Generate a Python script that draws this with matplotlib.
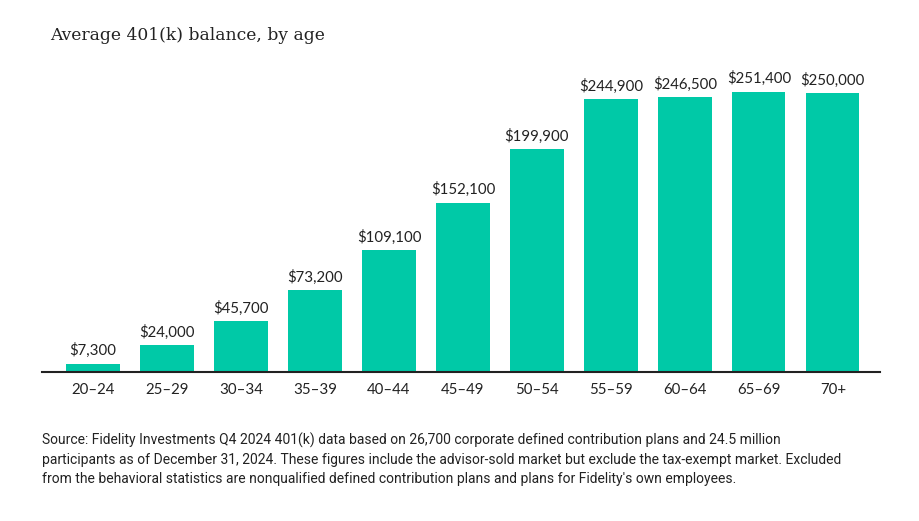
import matplotlib
matplotlib.use('Agg')
import matplotlib.pyplot as plt
from matplotlib import font_manager

ages = ['20–24', '25–29', '30–34', '35–39', '40–44', '45–49',
        '50–54', '55–59', '60–64', '65–69', '70+']
balances = [7300, 24000, 45700, 73200, 109100, 152100,
            199900, 244900, 246500, 251400, 250000]

title = 'Average 401(k) balance, by age'
source = ('Source: Fidelity Investments Q4 2024 401(k) data based on 26,700 corporate defined contribution plans and 24.5 million\n'
          'participants as of December 31, 2024. These figures include the advisor-sold market but exclude the tax-exempt market. Excluded\n'
          "from the behavioral statistics are nonqualified defined contribution plans and plans for Fidelity's own employees.")

names = {f.name for f in font_manager.fontManager.ttflist}
narrow = 'Liberation Sans Narrow' if 'Liberation Sans Narrow' in names else 'Roboto'

plt.rcParams['font.family'] = ['Lato', 'DejaVu Sans']

fig = plt.figure(figsize=(9.2, 5.21), dpi=100)
ax = fig.add_axes([0.0457, 0.286, 0.911, 0.599])

x = range(len(ages))
ax.bar(x, balances, width=0.72, color='#00c9a7')
for i, v in enumerate(balances):
    ax.text(i, v + 5000, '${:,}'.format(v), ha='center', va='bottom',
            fontsize=10.8, color='#222222')

ax.set_xlim(-0.69, 10.64)
ax.set_ylim(0, 280130)
ax.set_xticks(list(x))
ax.set_xticklabels(ages, fontsize=10.8, color='#222222')
ax.tick_params(axis='x', length=0, pad=8)
ax.set_yticks([])
for s in ['top', 'right', 'left']:
    ax.spines[s].set_visible(False)
ax.spines['bottom'].set_color('#222222')
ax.spines['bottom'].set_linewidth(1.5)

fig.text(50 / 920, 1 - 36 / 521, title, fontsize=12.3, family='DejaVu Serif',
         color='#222222', va='center', ha='left')
fig.text(42 / 920, 1 - 433 / 521, source, fontsize=10, family=narrow,
         color='#222222', va='top', ha='left', linespacing=1.45)

fig.savefig('out.png', dpi=100)
